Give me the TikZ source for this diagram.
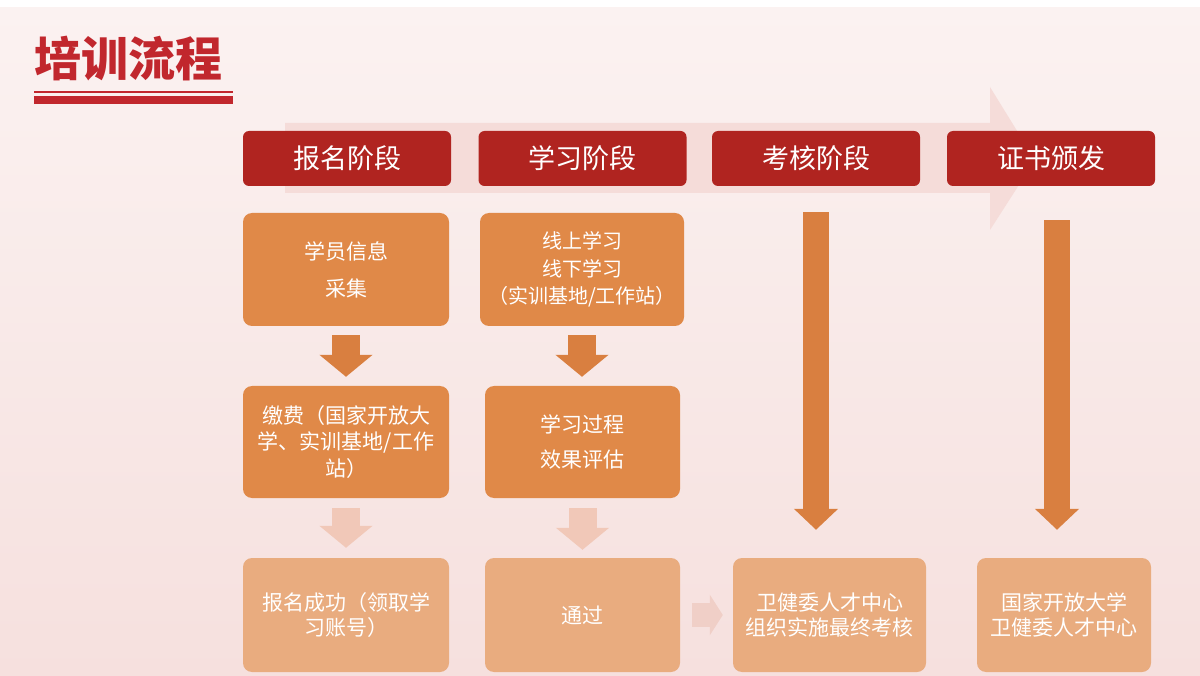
\documentclass[tikz,border=0pt]{standalone}
\usepackage{fontspec}
\newfontfamily\cjk{Noto Sans CJK SC}
\usetikzlibrary{arrows.meta}
\definecolor{bgtop}{HTML}{FBF2F1}
\definecolor{bgbot}{HTML}{F6E0DE}
\definecolor{band}{HTML}{F5DCD9}
\definecolor{titlered}{HTML}{C1272D}
\definecolor{hdrred}{HTML}{B02420}
\definecolor{boxor}{HTML}{E08948}
\definecolor{boxfade}{HTML}{E9AC7F}
\definecolor{arrowor}{HTML}{D97F40}
\definecolor{arrowfade}{HTML}{F1C8B8}
\definecolor{hfade}{HTML}{F0CFC7}
\begin{document}
\begin{tikzpicture}[x=1pt,y=-1pt,
  hdr/.style={rounded corners=6pt, fill=hdrred, text=white, inner sep=0pt,
    minimum width=208pt, minimum height=55pt, font=\cjk\fontsize{27}{30}\selectfont},
  box/.style={rounded corners=9pt, fill=boxor, text=white, inner sep=0pt, align=center},
  fadebox/.style={box, fill=boxfade},
  bigarrow/.style={draw=arrowor, line width=28pt, -{Triangle[width=52pt,length=22pt]}},
  fadearrow/.style={draw=arrowfade, line width=28pt, -{Triangle[width=52pt,length=22pt]}},
  longarrow/.style={draw=arrowor, line width=26pt, -{Triangle[width=43pt,length=21pt]}},
  harrow/.style={draw=hfade, line width=24pt, -{Triangle[width=40pt,length=13pt]}}
]
\useasboundingbox (0,0) rectangle (1200,676);
% background
\shade[top color=bgtop, bottom color=bgbot] (0,7) rectangle (1200,676);
\fill[white] (0,0) rectangle (1200,7);
% big background arrow
\fill[band] (285,123) -- (990,123) -- (990,87) -- (1035,160) -- (990,230) -- (990,193) -- (285,193) -- cycle;
% title
\node[anchor=west, text=titlered, inner sep=0pt, font=\cjk\bfseries\fontsize{47}{50}\selectfont] (title) at (34,59) {培训流程};
\fill[titlered] (34,91) rectangle (233,93);
\fill[titlered] (34,96) rectangle (233,104);
% headers
\node[hdr] (h1) at (347,158.5) {报名阶段};
\node[hdr] (h2) at (582.5,158.5) {学习阶段};
\node[hdr] (h3) at (816,158.5) {考核阶段};
\node[hdr] (h4) at (1051,158.5) {证书颁发};
% column 1
\node[box, minimum width=206pt, minimum height=113pt, font=\cjk\fontsize{21}{37}\selectfont] (A) at (346,269.5) {学员信息\\采集};
\node[box, minimum width=206pt, minimum height=112pt, font=\cjk\fontsize{21}{26.5}\selectfont] (B) at (346,442) {缴费（国家开放大\\学、实训基地/工作\\站）};
\node[fadebox, minimum width=206pt, minimum height=114pt, font=\cjk\fontsize{21}{25}\selectfont] (C) at (346,615) {报名成功（领取学\\习账号）};
% column 2
\node[box, minimum width=204pt, minimum height=113pt, font=\cjk\fontsize{20}{27.5}\selectfont] (D) at (582,269.5) {线上学习\\线下学习\\（实训基地/工作站）};
\node[box, minimum width=195pt, minimum height=112pt, font=\cjk\fontsize{21}{35}\selectfont] (E) at (582.5,442) {学习过程\\效果评估};
\node[fadebox, minimum width=195pt, minimum height=114pt, font=\cjk\fontsize{21}{25}\selectfont] (F) at (582.5,615) {通过};
% column 3, 4
\node[fadebox, minimum width=193pt, minimum height=114pt, font=\cjk\fontsize{21}{25}\selectfont] (G) at (829.5,615) {卫健委人才中心\\组织实施最终考核};
\node[fadebox, minimum width=174pt, minimum height=114pt, font=\cjk\fontsize{21}{25}\selectfont] (H) at (1064,615) {国家开放大学\\卫健委人才中心};
% arrows
\draw[bigarrow, shorten <=9pt, shorten >=9pt] (A) -- (B);
\draw[fadearrow, shorten <=10pt, shorten >=10pt] (B) -- (C);
\draw[bigarrow, shorten <=9pt, shorten >=9pt] (D.south) -- (D.south |- E.north);
\draw[fadearrow, shorten <=10pt, shorten >=8pt] (E.south) -- (E.south |- F.north);
\draw[longarrow, shorten <=26pt, shorten >=28pt] (h3.south) -- (h3.south |- G.north);
\coordinate (c4) at ([xshift=6pt]h4.south);
\draw[longarrow, shorten <=34pt, shorten >=28pt] (c4) -- (c4 |- H.north);
\draw[harrow, shorten <=12pt, shorten >=10pt] (F) -- (G);
\end{tikzpicture}
\end{document}
